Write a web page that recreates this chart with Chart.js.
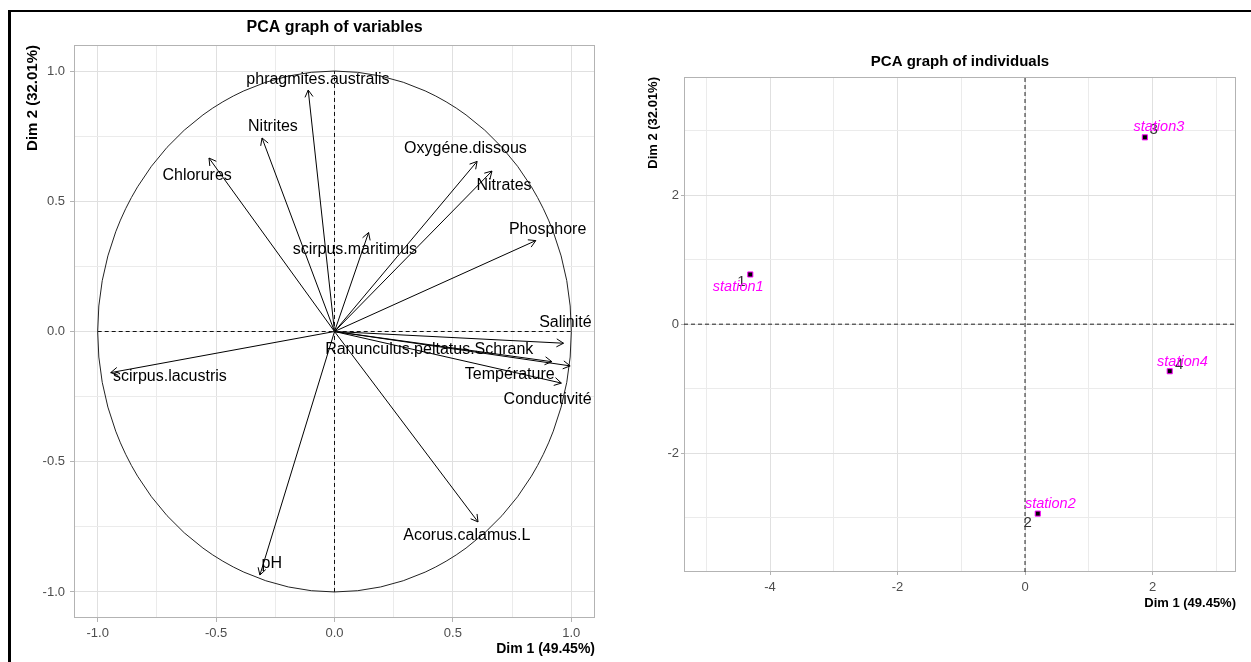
<!DOCTYPE html>
<html><head><meta charset="utf-8">
<script src="https://cdn.jsdelivr.net/npm/chart.js@4.4.1/dist/chart.umd.min.js"></script>
<style>
html,body{margin:0;padding:0;background:#fff;width:1251px;height:662px;overflow:hidden;}
#frame{position:absolute;left:8px;top:10px;width:1300px;height:700px;border-top:2px solid #000;border-left:3px solid #000;}
#c1{position:absolute;left:0;top:0;}
#c2{position:absolute;left:630px;top:40px;}
</style></head><body>
<div id="frame"></div>
<canvas id="c1" width="620" height="662"></canvas>
<canvas id="c2" width="621" height="580"></canvas>
<script>
// ---------- Data: PCA graph of variables ----------
const variables = ["phragmites.australis","Nitrites","Chlorures","scirpus.maritimus","Oxygéne.dissous","Nitrates","Phosphore","Salinité","Ranunculus.peltatus.Schrank","Température","Conductivité","scirpus.lacustris","pH","Acorus.calamus.L"];
const varDim1 = [-0.111,-0.306,-0.530,0.144,0.602,0.665,0.850,0.967,0.918,0.995,0.958,-0.945,-0.315,0.606];
const varDim2 = [0.927,0.743,0.666,0.380,0.653,0.616,0.349,-0.045,-0.116,-0.132,-0.198,-0.158,-0.935,-0.731];
const varLabelDim1 = [-0.070,-0.260,-0.580,0.086,0.553,0.716,0.900,0.975,0.400,0.740,0.900,-0.695,-0.265,0.559];
const varLabelDim2 = [0.969,0.785,0.600,0.316,0.701,0.560,0.392,0.033,-0.071,-0.167,-0.263,-0.173,-0.892,-0.785];
const varXTicks = [-1.0,-0.5,0.0,0.5,1.0];
const varXTickLabels = ["-1.0","-0.5","0.0","0.5","1.0"];
const varYTicks = [-1.0,-0.5,0.0,0.5,1.0];
const varYTickLabels = ["-1.0","-0.5","0.0","0.5","1.0"];
const varMinorGrid = [-0.75,-0.25,0.25,0.75];
const varRange = [-1.1,1.1];
const circleRadius = 1;

// ---------- Data: PCA graph of individuals ----------
const individuals = ["station1","station2","station3","station4"];
const indNumbers = ["1","2","3","4"];
const indDim1 = [-4.31,0.20,1.88,2.27];
const indDim2 = [0.77,-2.935,2.895,-0.729];
const indLabelDim1 = [-4.50,0.397,2.10,2.47];
const indLabelDim2 = [0.578,-2.79,3.05,-0.584];
const indNumDim1 = [-4.45,0.04,2.02,2.42];
const indNumDim2 = [0.651,-3.08,3.01,-0.636];
const indXTicks = [-4,-2,0,2];
const indXTickLabels = ["-4","-2","0","2"];
const indXMinor = [-5,-3,-1,1,3];
const indYTicks = [-2,0,2];
const indYTickLabels = ["-2","0","2"];
const indYMinor = [-3,-1,1,3];
const indXRange = [-5.35,3.31];
const indYRange = [-3.84,3.83];

const FONT = "'Liberation Sans', Arial, sans-serif";
const TICK_COLOR = '#4d4d4d';
const GRID_MAJOR = '#e0e0e0';
const GRID_MINOR = '#ebebeb';
const PANEL_BORDER = '#b3b3b3';

function near(arr, v){ return arr.findIndex(a => Math.abs(a - v) < 1e-9); }

function axisCfg(o){
  return {
    type:'linear', min:o.min, max:o.max, position:o.position,
    afterBuildTicks: s => { s.ticks = o.major.concat(o.minor).sort((a,b)=>a-b).map(v=>({value:v})); },
    afterFit: s => { if (o.position === 'bottom') s.height = o.size; else s.width = o.size; },
    ticks:{
      autoSkip:false, maxRotation:0, minRotation:0,
      padding:o.tickPad, color:TICK_COLOR, font:{family:FONT, size:o.tickSize},
      callback:(v)=>{ const i = near(o.major, v); return i >= 0 ? o.labels[i] : ''; }
    },
    grid:{
      lineWidth:1, tickLength:o.tickLen, drawTicks:true,
      color: c => (c.tick && near(o.major, c.tick.value) >= 0) ? GRID_MAJOR : GRID_MINOR,
      tickColor: c => (c.tick && near(o.major, c.tick.value) >= 0) ? PANEL_BORDER : 'rgba(0,0,0,0)'
    },
    border:{display:false},
    title:{display:true, text:o.title, align:'end', color:'#000',
      font:{family:FONT, size:o.titleSize, weight:'bold'}, padding:o.titlePad}
  };
}

const panelPlugin = {
  id:'panel',
  beforeDatasetsDraw(chart, args, opts){
    const {ctx, chartArea:a} = chart;
    ctx.save();
    ctx.strokeStyle = PANEL_BORDER; ctx.lineWidth = 1;
    ctx.strokeRect(Math.round(a.left)+0.5, Math.round(a.top)+0.5, Math.round(a.right-a.left)-1, Math.round(a.bottom-a.top)-1);
    if (opts.circle) {
      const xs = chart.scales.x, ys = chart.scales.y;
      const cx = xs.getPixelForValue(0), cy = ys.getPixelForValue(0);
      const rx = xs.getPixelForValue(opts.circle) - cx, ry = cy - ys.getPixelForValue(opts.circle);
      ctx.strokeStyle = '#222'; ctx.lineWidth = 1;
      ctx.beginPath(); ctx.ellipse(cx, cy, rx, ry, 0, 0, 2*Math.PI); ctx.stroke();
    }
    ctx.restore();
  },
  afterDatasetsDraw(chart, args, opts){
    const {ctx} = chart;
    const xs = chart.scales.x, ys = chart.scales.y;
    ctx.save();
    chart.data.datasets.forEach((ds, i) => {
      if (!ds.arrow) return;
      const m = chart.getDatasetMeta(i);
      const p0 = m.data[0], p1 = m.data[1];
      const ang = Math.atan2(p1.y - p0.y, p1.x - p0.x);
      const L = 8, w = Math.PI/6;
      ctx.strokeStyle = '#000'; ctx.lineWidth = 1;
      ctx.beginPath();
      ctx.moveTo(p1.x - L*Math.cos(ang - w), p1.y - L*Math.sin(ang - w));
      ctx.lineTo(p1.x, p1.y);
      ctx.lineTo(p1.x - L*Math.cos(ang + w), p1.y - L*Math.sin(ang + w));
      ctx.stroke();
    });
    (opts.labels || []).forEach(l => {
      ctx.font = l.font; ctx.fillStyle = l.color;
      ctx.textAlign = 'center'; ctx.textBaseline = 'middle';
      ctx.fillText(l.text, xs.getPixelForValue(l.x), ys.getPixelForValue(l.y));
    });
    ctx.restore();
  },
  afterDraw(chart, args, opts){
    const {ctx, chartArea:a} = chart;
    ctx.save();
    ctx.font = opts.titleFont; ctx.fillStyle = '#000';
    ctx.textAlign = 'center'; ctx.textBaseline = 'middle';
    ctx.fillText(opts.title, (a.left + a.right)/2, opts.titleY);
    ctx.restore();
  }
};

// ---------- Chart 1 ----------
const ds1 = [];
ds1.push({data:[{x:-circleRadius,y:0},{x:circleRadius,y:0}], showLine:true, borderColor:'#111', borderWidth:1, borderDash:[4,3], pointRadius:0});
ds1.push({data:[{x:0,y:-circleRadius},{x:0,y:circleRadius}], showLine:true, borderColor:'#111', borderWidth:1, borderDash:[4,3], pointRadius:0});
variables.forEach((v,i) => {
  ds1.push({label:v, arrow:true, data:[{x:0,y:0},{x:varDim1[i],y:varDim2[i]}], showLine:true, borderColor:'#000', borderWidth:1, pointRadius:0});
});
const labels1 = variables.map((v,i) => ({text:v, x:varLabelDim1[i], y:varLabelDim2[i], font:'16px '+FONT, color:'#000'}));

new Chart(document.getElementById('c1'), {
  type:'scatter',
  data:{datasets:ds1},
  options:{
    responsive:false, animation:false, devicePixelRatio:1, events:[],
    layout:{padding:{top:45, right:25, bottom:0, left:0}},
    plugins:{legend:{display:false}, tooltip:{enabled:false},
      panel:{circle:circleRadius, labels:labels1, title:'PCA graph of variables', titleFont:'bold 16px '+FONT, titleY:28}},
    scales:{
      x: axisCfg({position:'bottom', min:varRange[0], max:varRange[1], major:varXTicks, labels:varXTickLabels, minor:varMinorGrid,
        size:44, tickPad:4, tickLen:4, tickSize:13, title:'Dim 1 (49.45%)', titleSize:14, titlePad:{top:0,bottom:4}}),
      y: axisCfg({position:'left', min:varRange[0], max:varRange[1], major:varYTicks, labels:varYTickLabels, minor:varMinorGrid,
        size:74, tickPad:5, tickLen:4, tickSize:13, title:'Dim 2 (32.01%)', titleSize:15, titlePad:{top:24,bottom:0}})
    }
  },
  plugins:[panelPlugin]
});

// ---------- Chart 2 ----------
const ds2 = [];
ds2.push({data:individuals.map((n,i)=>({x:indDim1[i], y:indDim2[i]})), pointStyle:'rect', pointRadius:3.6, backgroundColor:'#000', borderColor:'#ff00ff', borderWidth:1, showLine:false});
ds2.push({data:[{x:indXRange[0],y:0},{x:indXRange[1],y:0}], showLine:true, borderColor:'#222', borderWidth:1, borderDash:[4,3], pointRadius:0});
ds2.push({data:[{x:0,y:indYRange[0]},{x:0,y:indYRange[1]}], showLine:true, borderColor:'#222', borderWidth:1, borderDash:[4,3], pointRadius:0});
const labels2 = [];
individuals.forEach((n,i) => {
  labels2.push({text:indNumbers[i], x:indNumDim1[i], y:indNumDim2[i], font:'15px '+FONT, color:'#333'});
  labels2.push({text:n, x:indLabelDim1[i], y:indLabelDim2[i], font:'italic 14.5px '+FONT, color:'#ff00ff'});
});

new Chart(document.getElementById('c2'), {
  type:'scatter',
  data:{datasets:ds2},
  options:{
    responsive:false, animation:false, devicePixelRatio:1, events:[],
    layout:{padding:{top:37, right:15, bottom:0, left:0}},
    plugins:{legend:{display:false}, tooltip:{enabled:false},
      panel:{labels:labels2, title:'PCA graph of individuals', titleFont:'bold 15px '+FONT, titleY:22}},
    scales:{
      x: axisCfg({position:'bottom', min:indXRange[0], max:indXRange[1], major:indXTicks, labels:indXTickLabels, minor:indXMinor,
        size:48, tickPad:5, tickLen:3, tickSize:13, title:'Dim 1 (49.45%)', titleSize:13, titlePad:{top:0,bottom:9}}),
      y: axisCfg({position:'left', min:indYRange[0], max:indYRange[1], major:indYTicks, labels:indYTickLabels, minor:indYMinor,
        size:54, tickPad:2, tickLen:3, tickSize:13, title:'Dim 2 (32.01%)', titleSize:13, titlePad:{top:16,bottom:0}})
    }
  },
  plugins:[panelPlugin]
});
</script>
</body></html>
